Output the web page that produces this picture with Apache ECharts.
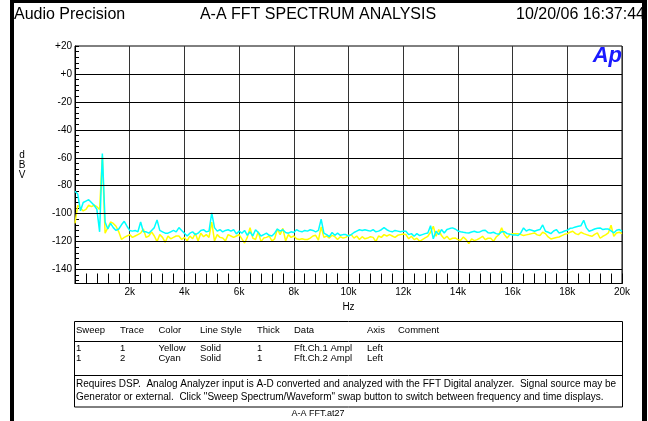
<!DOCTYPE html>
<html><head><meta charset="utf-8">
<script src="https://cdn.jsdelivr.net/npm/echarts@6/dist/echarts.min.js"></script>
<style>html,body{margin:0;padding:0;background:#fff;overflow:hidden}#c{width:648px;height:421px}</style>
</head><body><div id="c"></div>
<script>
// Frequency (Hz)
const freq = [
0,100,200,300,400,500,600,700,800,900,
1000,1100,1200,1300,1400,1500,1600,1700,1800,1900,
2000,2100,2200,2300,2400,2500,2600,2700,2800,2900,
3000,3100,3200,3300,3400,3500,3600,3700,3800,3900,
4000,4100,4200,4300,4400,4500,4600,4700,4800,4900,
5000,5100,5200,5300,5400,5500,5600,5700,5800,5900,
6000,6100,6200,6300,6400,6500,6600,6700,6800,6900,
7000,7100,7200,7300,7400,7500,7600,7700,7800,7900,
8000,8100,8200,8300,8400,8500,8600,8700,8800,8900,
9000,9100,9200,9300,9400,9500,9600,9700,9800,9900,
10000,10100,10200,10300,10400,10500,10600,10700,10800,10900,
11000,11100,11200,11300,11400,11500,11600,11700,11800,11900,
12000,12100,12200,12300,12400,12500,12600,12700,12800,12900,
13000,13100,13200,13300,13400,13500,13600,13700,13800,13900,
14000,14100,14200,14300,14400,14500,14600,14700,14800,14900,
15000,15100,15200,15300,15400,15500,15600,15700,15800,15900,
16000,16100,16200,16300,16400,16500,16600,16700,16800,16900,
17000,17100,17200,17300,17400,17500,17600,17700,17800,17900,
18000,18100,18200,18300,18400,18500,18600,18700,18800,18900,
19000,19100,19200,19300,19400,19500,19600,19700,19800,19900,
20000];

// Trace 1 (Yellow) dBV
const yellow = [
-107,-94,-96,-98,-97,-94,-95,-94,-95,-97,
-59,-114,-110,-106,-107,-109,-113,-118.5,-117,-116,
-115,-117,-116,-115,-114,-111,-117,-116,-113,-116,
-120,-115,-117,-120.5,-116,-118,-117,-116,-116,-118.5,
-117,-119.5,-116,-118,-114,-119.5,-114,-116.5,-115,-117,
-106,-119.5,-115,-117,-117.5,-119.5,-115,-116,-117,-116,
-115,-118,-121,-117,-110,-117.5,-118.5,-113,-120,-117.5,
-117,-116,-119.5,-118,-111,-115,-110.5,-119.5,-115,-117,
-116,-118,-118.5,-118,-118.5,-118.5,-117.5,-116,-115.5,-119,
-109.5,-117,-116,-117.5,-115.5,-116.5,-118.5,-116.5,-117.5,-117,
-115.5,-115,-117.5,-116,-118.5,-116.5,-118,-117.5,-116.5,-117,
-120,-116,-117,-115,-116,-115,-116,-117,-115.5,-115,
-114.5,-115,-118,-116.2,-118.6,-117.6,-119.8,-118.6,-117.4,-116.2,
-113.3,-109,-116.2,-111.4,-115.7,-118,-116.2,-118.6,-117.6,-117.4,
-118.6,-119,-116.7,-118.6,-121.4,-118.1,-119.3,-118.6,-117.6,-116.2,
-118.6,-117.6,-117.6,-119.8,-116.7,-115,-110.2,-115,-117.4,-115,
-114.3,-114.3,-114.3,-115,-115.7,-115.2,-114.8,-114.3,-113.8,-115.2,
-115.7,-113.3,-114.3,-116.7,-118.1,-117.6,-117.1,-116.7,-115.7,-114.8,
-114.3,-113.3,-112.6,-114.3,-115,-113.3,-114.3,-115,-115.7,-116.2,
-114.8,-113.8,-117.6,-116.2,-115.2,-113.8,-108.3,-116.2,-113.8,-113.3,
-114.3];

// Trace 2 (Cyan) dBV
const cyan = [
-84,-86,-98,-92,-91,-90,-92,-94,-97,-113,
-57,-106,-111,-107,-110,-112,-111,-108,-105.5,-109,
-112,-112.5,-112,-113,-106,-113,-113,-114,-112,-110,
-104.5,-112,-113,-114,-114,-113,-112,-113,-110,-112,
-114,-116,-114,-113,-115,-114,-112,-111.5,-113,-112.5,
-99.5,-110,-112.5,-111.5,-113,-112,-111.5,-112.5,-111.5,-114.5,
-112.5,-114,-112,-115.5,-113,-116,-111.5,-113.5,-116,-115,
-114,-115.5,-116,-114,-111,-112.5,-111.5,-113.5,-114,-113,
-113.5,-111.5,-112.5,-113,-112,-112.5,-111.5,-112,-113,-112,
-104,-114,-115,-116.5,-113.5,-115.5,-114,-115.5,-115,-115,
-116,-115,-113.5,-112.5,-111.5,-112,-111.5,-112,-112.5,-111.5,
-113,-112.5,-111.5,-110,-111.5,-112.5,-113,-112,-112.5,-113,
-112.5,-112.6,-115,-114.3,-116.2,-114.3,-115.7,-115,-114.3,-113.8,
-108.6,-118,-112.6,-115,-111.4,-113.8,-111.4,-110.7,-110.2,-111,
-112.4,-112.9,-113.3,-113.6,-113.8,-113.1,-112.6,-113.3,-113.1,-112.1,
-111.9,-113.6,-113.8,-113.3,-114.3,-114.8,-112.9,-112.9,-114.3,-114.8,
-115.2,-115.2,-115.7,-113.8,-110.2,-112.4,-111.4,-111.9,-112.6,-111.9,
-111.4,-108.1,-112.6,-113.3,-114.3,-112.4,-111.4,-113.8,-113.3,-112.4,
-111.9,-110.5,-110.2,-109.5,-109,-108.6,-104.8,-110.2,-112.6,-111.9,
-111,-110.5,-110.2,-111.4,-111,-111,-112.4,-113.8,-111.9,-111.4,
-112.6];

const yLabelValues = [-140,-120,-100,-80,-60,-40,-20,0,20];
const yTickValues = [-148,-144,-140,-136,-132,-128,-124,-120,-116,-112,-108,-104,-100,-96,-92,-88,-84,-80,-76,-72,-68,-64,-60,-56,-52,-48,-44,-40,-36,-32,-28,-24,-20,-16,-12,-8,-4,0,4,8,12,16,20];
const hGridValues = [-140,-120,-100,-80,-60,-40,-20,0];

const headerTexts = ['Audio Precision','A-A FFT SPECTRUM ANALYSIS','10/20/06 16:37:44'];
const tableHeader = ['Sweep','Trace','Color','Line Style','Thick','Data','Axis','Comment'];
const tableRows = [
  ['1','1','Yellow','Solid','1','Fft.Ch.1 Ampl','Left'],
  ['1','2','Cyan','Solid','1','Fft.Ch.2 Ampl','Left']
];
const noteLines = [
  'Requires DSP.  Analog Analyzer input is A-D converted and analyzed with the FFT Digital analyzer.  Signal source may be',
  'Generator or external.  Click "Sweep Spectrum/Waveform" swap button to switch between frequency and time displays.'
];
const fileName = 'A-A FFT.at27';

const FONT = '"Liberation Sans", Arial, sans-serif';
const colX = [76,120,158.5,200,257,294,367,398];

function txt(x, y, text, size, align, extra) {
  return Object.assign({type:'text', x:x, y:y, z:50, silent:true,
    style:Object.assign({text:text, fill:'#000', fontFamily:FONT, fontSize:size, align:align||'left', verticalAlign:'middle'}, extra||{})});
}

const g = [];
// header
g.push(txt(14, 15, headerTexts[0], 16, 'left'));
g.push(txt(318, 15, headerTexts[1], 16, 'center'));
g.push(txt(645, 15, headerTexts[2], 16, 'right'));
// Ap logo
g.push(txt(622, 56, 'Ap', 22, 'right', {fill:'#1a1aff', fontWeight:'bold', fontStyle:'italic'}));
// dBV
g.push(txt(22, 155, 'd', 10, 'center'));
g.push(txt(22, 165, 'B', 10, 'center'));
g.push(txt(22, 175, 'V', 10, 'center'));
// table
g.push({type:'rect', z:40, silent:true, shape:{x:74.5, y:321.5, width:548, height:85.5}, style:{fill:null, stroke:'#000', lineWidth:1}});
g.push({type:'line', z:40, silent:true, shape:{x1:74.5, y1:341.5, x2:622.5, y2:341.5}, style:{stroke:'#000', lineWidth:1}});
g.push({type:'line', z:40, silent:true, shape:{x1:74.5, y1:375.5, x2:622.5, y2:375.5}, style:{stroke:'#000', lineWidth:1}});
tableHeader.forEach((t,i)=>g.push(txt(colX[i], 330.5, t, 9.5, 'left')));
tableRows.forEach((row,r)=>row.forEach((t,i)=>g.push(txt(colX[i], 348.5 + r*10, t, 9.5, 'left'))));
noteLines.forEach((t,i)=>g.push(txt(76, 384.5 + i*12.5, t, 10, 'left')));
g.push(txt(318, 413.5, fileName, 9, 'center'));
// frame
g.push({type:'rect', z:60, silent:true, shape:{x:10, y:0, width:4, height:421}, style:{fill:'#000'}});
g.push({type:'rect', z:60, silent:true, shape:{x:10, y:0, width:637, height:3}, style:{fill:'#000'}});
g.push({type:'rect', z:60, silent:true, shape:{x:642, y:0, width:5, height:421}, style:{fill:'#000'}});

const chart = echarts.init(document.getElementById('c'), null, {renderer:'canvas'});
chart.setOption({
  animation:false,
  backgroundColor:'#fff',
  grid:{left:75, right:26, top:46, bottom:137.5, show:true, borderColor:'#000', borderWidth:1, backgroundColor:'transparent', containLabel:false},
  xAxis:{
    type:'value', min:0, max:20000, interval:2000,
    axisLine:{show:true, onZero:false, lineStyle:{color:'#000', width:1}},
    axisTick:{show:true, inside:true, length:10, lineStyle:{color:'#000'}},
    minorTick:{show:true, splitNumber:5, length:10, lineStyle:{color:'#000', width:1}},
    splitLine:{show:true, lineStyle:{color:'#333', width:1}},
    axisLabel:{fontFamily:FONT, fontSize:10, color:'#000', margin:4, showMinLabel:false,
      formatter:function(v){ return v===0 ? '' : (v/1000)+'k'; }},
    name:'Hz', nameLocation:'middle', nameGap:18,
    nameTextStyle:{fontFamily:FONT, fontSize:10, color:'#000'}
  },
  yAxis:{
    type:'value', min:-150, max:20,
    axisLine:{show:true, onZero:false, lineStyle:{color:'#000', width:1}},
    axisTick:{show:true, inside:true, length:4, customValues:yTickValues, lineStyle:{color:'#000'}},
    axisLabel:{customValues:yLabelValues, fontFamily:FONT, fontSize:10, color:'#000', margin:3,
      formatter:function(v){ return v>=0 ? '+'+v : String(v); }},
    splitLine:{show:false}
  },
  series:[
    {type:'line', data:[], z:1, silent:true,
     markLine:{silent:true, symbol:'none', animation:false, label:{show:false},
       lineStyle:{color:'#000', width:1, type:'solid'},
       data:hGridValues.map(function(v){return {yAxis:v};})}},
    {name:'Trace 1', type:'line', symbol:'none', z:3, silent:true,
     lineStyle:{color:'#ffff00', width:1.5},
     data:freq.map(function(f,i){return [f, yellow[i]];})},
    {name:'Trace 2', type:'line', symbol:'none', z:4, silent:true,
     lineStyle:{color:'#00ffff', width:1.5},
     data:freq.map(function(f,i){return [f, cyan[i]];})}
  ],
  graphic:g
});
</script>
</body></html>
